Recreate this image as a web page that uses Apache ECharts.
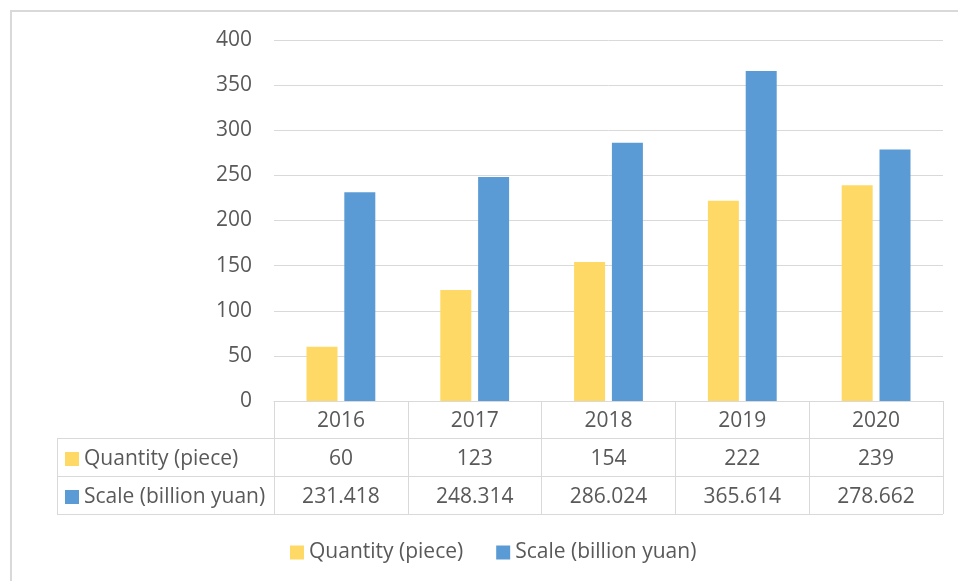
<!DOCTYPE html>
<html>
<head>
<meta charset="utf-8">
<script src="https://cdn.jsdelivr.net/npm/echarts@6/dist/echarts.min.js"></script>
<style>
  html, body { margin: 0; padding: 0; background: #fff; }
  #chart { width: 958px; height: 581px; }
</style>
</head>
<body>
<div id="chart"></div>
<script>
const years = ['2016', '2017', '2018', '2019', '2020']
const seriesNames = ['Quantity (piece)', 'Scale (billion yuan)']
const quantity = [60, 123, 154, 222, 239]
const scale = [231.418, 248.314, 286.024, 365.614, 278.662]
const quantityText = ['60', '123', '154', '222', '239']
const scaleText = ['231.418', '248.314', '286.024', '365.614', '278.662']

const font = '"Open Sans", "Liberation Sans", sans-serif'
const textColor = '#595959'
const lineColor = '#d9d9d9'

// table rows below the plot area
function rowAxis(data, offset) {
  return {
    type: 'category',
    data: data,
    position: 'bottom',
    offset: offset,
    axisLine: { show: false },
    axisTick: { show: false },
    axisLabel: { margin: 10, color: textColor, fontSize: 21, fontFamily: font }
  }
}

const option = {
  color: ['#ffd966', '#5b9bd5'],
  animation: false,
  grid: { left: 274, right: 15, top: 40, bottom: 180 },
  legend: [
    {
      data: seriesNames,
      left: 285,
      top: 537,
      icon: 'rect',
      itemWidth: 14,
      itemHeight: 14,
      itemGap: 33,
      textStyle: { color: textColor, fontSize: 21, fontFamily: font }
    },
    {
      data: seriesNames,
      orient: 'vertical',
      left: 60,
      top: 442,
      icon: 'rect',
      itemWidth: 14,
      itemHeight: 14,
      itemGap: 14,
      selectedMode: false,
      textStyle: { color: textColor, fontSize: 21, lineHeight: 24, fontFamily: font }
    }
  ],
  xAxis: [
    {
      type: 'category',
      data: years,
      axisLine: { show: true, lineStyle: { color: lineColor } },
      axisTick: { show: true, interval: 0, length: 113, lineStyle: { color: lineColor } },
      axisLabel: { margin: 10, color: textColor, fontSize: 21, fontFamily: font }
    },
    rowAxis(quantityText, 38),
    rowAxis(scaleText, 76)
  ],
  yAxis: {
    type: 'value',
    min: 0,
    max: 400,
    interval: 50,
    axisLine: { show: false },
    axisTick: { show: false },
    axisLabel: { margin: 22, color: textColor, fontSize: 21, fontFamily: font },
    splitLine: { lineStyle: { color: lineColor, width: 1 } }
  },
  series: [
    {
      name: seriesNames[0],
      type: 'bar',
      data: quantity,
      barWidth: 31,
      barGap: '22%'
    },
    {
      name: seriesNames[1],
      type: 'bar',
      data: scale,
      barWidth: 31,
      barGap: '22%'
    }
  ],
  graphic: [
    { type: 'rect', silent: true, shape: { x: 11, y: 11, width: 1000, height: 1000 },
      style: { fill: 'none', stroke: lineColor, lineWidth: 2 } },
    { type: 'line', silent: true, shape: { x1: 57, y1: 438.5, x2: 943, y2: 438.5 }, style: { stroke: lineColor } },
    { type: 'line', silent: true, shape: { x1: 57, y1: 476.5, x2: 943, y2: 476.5 }, style: { stroke: lineColor } },
    { type: 'line', silent: true, shape: { x1: 57, y1: 514.5, x2: 943, y2: 514.5 }, style: { stroke: lineColor } },
    { type: 'line', silent: true, shape: { x1: 57.5, y1: 438, x2: 57.5, y2: 515 }, style: { stroke: lineColor } }
  ]
}

const myChart = echarts.init(document.getElementById('chart'))
myChart.setOption(option)
</script>
</body>
</html>
